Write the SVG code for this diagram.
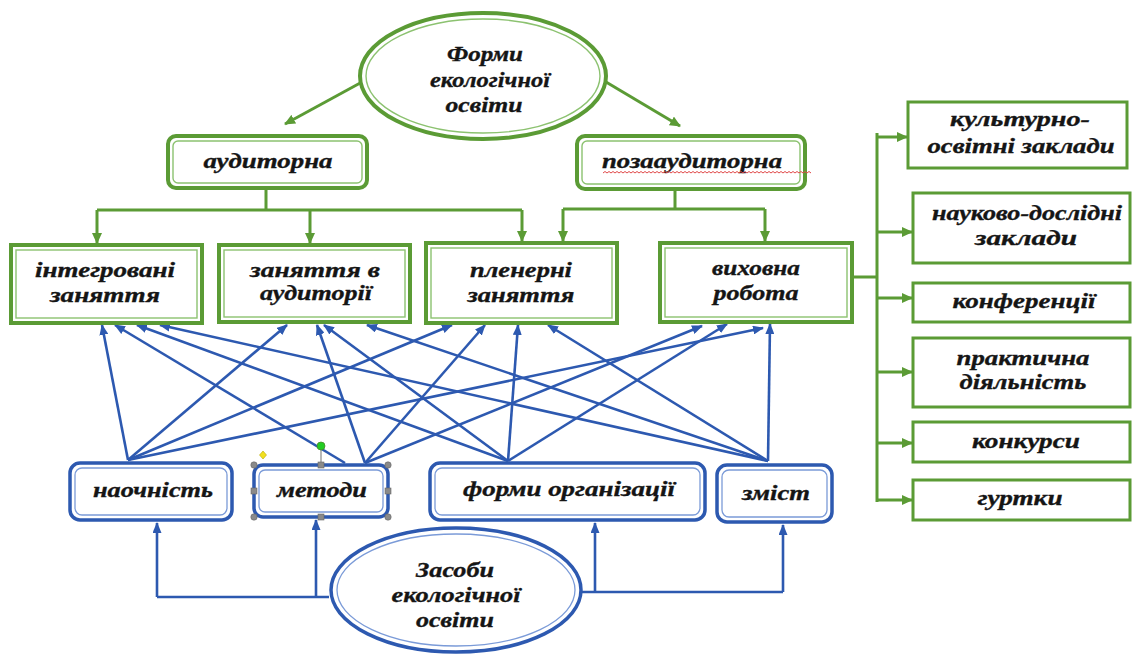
<svg xmlns="http://www.w3.org/2000/svg" width="1132" height="655" viewBox="0 0 1132 655">
<style>
.t{font-family:"Liberation Serif","DejaVu Serif",serif;font-weight:bold;font-style:italic;font-size:22px;fill:#151515;text-anchor:middle;stroke:#151515;stroke-width:0.35}
.go{fill:#fff;stroke:#5b9b35;stroke-width:4}
.gi{fill:none;stroke:#8cc270;stroke-width:1.4}
.gs{fill:#fff;stroke:#5b9b35;stroke-width:3}
.bo{fill:#fff;stroke:#2d59b0;stroke-width:3.5}
.bi{fill:none;stroke:#7b9bd8;stroke-width:1.3}
.gl{fill:none;stroke:#5b9b35;stroke-width:3}
.bl{fill:none;stroke:#2d59b0;stroke-width:2.6}
.ga{fill:none;stroke:#5b9b35;stroke-width:3;marker-end:url(#ag)}
.ba{fill:none;stroke:#2d59b0;stroke-width:2.6;marker-end:url(#ab)}
</style>
<defs>
<marker id="ag" markerWidth="11" markerHeight="10" refX="10" refY="5" orient="auto" markerUnits="userSpaceOnUse"><path d="M0,0 L11,5 L0,10 z" fill="#5b9b35"/></marker>
<marker id="ab" markerWidth="11" markerHeight="9" refX="10" refY="4.5" orient="auto" markerUnits="userSpaceOnUse"><path d="M0,0 L11,4.5 L0,9 z" fill="#2d59b0"/></marker>
</defs>
<rect width="1132" height="655" fill="#fff"/>
<g id="connectors">
<path class="ga" d="M362,82 L285,124"/>
<path class="ga" d="M606,82 L680,126"/>
<path class="gl" d="M266,188 V210 M97,210 H522 M675,190 V209 M563,209 H765 M852,277 H877 M877,133 V502"/>
<path class="ga" d="M97,210 V243"/>
<path class="ga" d="M310,210 V243"/>
<path class="ga" d="M522,210 V241"/>
<path class="ga" d="M563,209 V241"/>
<path class="ga" d="M765,209 V241"/>
<path class="ga" d="M877,137 H907"/>
<path class="ga" d="M877,232 H912"/>
<path class="ga" d="M877,298 H912"/>
<path class="ga" d="M877,372 H912"/>
<path class="ga" d="M877,443 H912"/>
<path class="ga" d="M877,500 H912"/>
<path class="bl" d="M157,597 H329 M582,592 H783"/>
<path class="ba" d="M157,597 V523"/>
<path class="ba" d="M316,597 V520"/>
<path class="ba" d="M595,592 V523"/>
<path class="ba" d="M783,592 V525"/>
<path class="ba" d="M128,460 L102,325"/>
<path class="ba" d="M128,460 L287,325"/>
<path class="ba" d="M128,460 L452,325"/>
<path class="ba" d="M128,460 L763,328"/>
<path class="ba" d="M345,463 L115,325"/>
<path class="ba" d="M365,463 L317,325"/>
<path class="ba" d="M365,463 L485,325"/>
<path class="ba" d="M365,463 L702,326"/>
<path class="ba" d="M508,461 L137,325"/>
<path class="ba" d="M508,461 L324,325"/>
<path class="ba" d="M508,461 L518,325"/>
<path class="ba" d="M508,461 L727,324"/>
<path class="ba" d="M768,461 L160,325"/>
<path class="ba" d="M768,461 L367,325"/>
<path class="ba" d="M768,461 L548,325"/>
<path class="ba" d="M768,461 L770,324"/>
</g>
<g id="forms">
<ellipse class="go" cx="483" cy="76" rx="123" ry="63"/>
<ellipse class="gi" cx="483" cy="76" rx="117" ry="57"/>
<text class="t" x="485" y="61" textLength="76" lengthAdjust="spacingAndGlyphs">Форми</text>
<text class="t" x="490" y="87" textLength="120" lengthAdjust="spacingAndGlyphs">екологічної</text>
<text class="t" x="484" y="112" textLength="77" lengthAdjust="spacingAndGlyphs">освіти</text>
</g>
<g id="auditorna">
<rect class="go" x="168" y="136" width="199" height="52" rx="8"/>
<rect class="gi" x="173" y="141" width="189" height="42" rx="5"/>
<text class="t" x="268" y="168" textLength="129" lengthAdjust="spacingAndGlyphs">аудиторна</text>
</g>
<g id="pozaauditorna">
<rect class="go" x="577" y="136" width="228" height="53" rx="8"/>
<rect class="gi" x="582" y="141" width="218" height="43" rx="5"/>
<text class="t" x="692" y="168" textLength="180" lengthAdjust="spacingAndGlyphs">позааудиторна</text>
<path d="M603,173 l2,-1.5l2,1.5l2,-1.5l2,1.5l2,-1.5l2,1.5l2,-1.5l2,1.5l2,-1.5l2,1.5l2,-1.5l2,1.5l2,-1.5l2,1.5l2,-1.5l2,1.5l2,-1.5l2,1.5l2,-1.5l2,1.5l2,-1.5l2,1.5l2,-1.5l2,1.5l2,-1.5l2,1.5l2,-1.5l2,1.5l2,-1.5l2,1.5l2,-1.5l2,1.5l2,-1.5l2,1.5l2,-1.5l2,1.5l2,-1.5l2,1.5l2,-1.5l2,1.5l2,-1.5l2,1.5l2,-1.5l2,1.5l2,-1.5l2,1.5l2,-1.5l2,1.5l2,-1.5l2,1.5l2,-1.5l2,1.5l2,-1.5l2,1.5l2,-1.5l2,1.5l2,-1.5l2,1.5l2,-1.5l2,1.5l2,-1.5l2,1.5l2,-1.5l2,1.5l2,-1.5l2,1.5l2,-1.5l2,1.5l2,-1.5l2,1.5l2,-1.5l2,1.5l2,-1.5l2,1.5l2,-1.5l2,1.5l2,-1.5l2,1.5l2,-1.5l2,1.5l2,-1.5l2,1.5l2,-1.5l2,1.5l2,-1.5l2,1.5l2,-1.5l2,1.5l2,-1.5l2,1.5l2,-1.5l2,1.5l2,-1.5l2,1.5l2,-1.5l2,1.5l2,-1.5l2,1.5l2,-1.5l2,1.5l2,-1.5l2,1.5l2,-1.5l2,1.5" fill="none" stroke="#e04848" stroke-width="1"/>
</g>
<g id="integrovani">
<rect class="go" x="11" y="245" width="191" height="78"/>
<rect class="gi" x="16" y="250" width="181" height="68"/>
<text class="t" x="105" y="277" textLength="140" lengthAdjust="spacingAndGlyphs">інтегровані</text>
<text class="t" x="105" y="302" textLength="110" lengthAdjust="spacingAndGlyphs">заняття</text>
</g>
<g id="zanyattya-auditorii">
<rect class="go" x="219" y="245" width="191" height="77"/>
<rect class="gi" x="224" y="250" width="181" height="67"/>
<text class="t" x="315" y="277" textLength="130" lengthAdjust="spacingAndGlyphs">заняття в</text>
<text class="t" x="316" y="300" textLength="112" lengthAdjust="spacingAndGlyphs">аудиторії</text>
</g>
<g id="plenerni">
<rect class="go" x="426" y="243" width="191" height="80"/>
<rect class="gi" x="431" y="248" width="181" height="70"/>
<text class="t" x="521" y="277" textLength="102" lengthAdjust="spacingAndGlyphs">пленерні</text>
<text class="t" x="521" y="302" textLength="107" lengthAdjust="spacingAndGlyphs">заняття</text>
</g>
<g id="vykhovna">
<rect class="go" x="660" y="243" width="192" height="79"/>
<rect class="gi" x="665" y="248" width="182" height="69"/>
<text class="t" x="756" y="275" textLength="88" lengthAdjust="spacingAndGlyphs">виховна</text>
<text class="t" x="756" y="300" textLength="85" lengthAdjust="spacingAndGlyphs">робота</text>
</g>
<g id="kulturno">
<rect class="gs" x="908" y="102" width="219" height="66"/>
<text class="t" x="1020" y="126" textLength="140" lengthAdjust="spacingAndGlyphs">культурно-</text>
<text class="t" x="1021" y="153" textLength="187" lengthAdjust="spacingAndGlyphs">освітні заклади</text>
</g>
<g id="naukovo">
<rect class="gs" x="913" y="193" width="217" height="70"/>
<text class="t" x="1027" y="220" textLength="190" lengthAdjust="spacingAndGlyphs">науково-дослідні</text>
<text class="t" x="1026" y="245" textLength="102" lengthAdjust="spacingAndGlyphs">заклади</text>
</g>
<g id="konferentsii">
<rect class="gs" x="913" y="283" width="217" height="39"/>
<text class="t" x="1024" y="308" textLength="143" lengthAdjust="spacingAndGlyphs">конференції</text>
</g>
<g id="praktychna">
<rect class="gs" x="913" y="338" width="217" height="69"/>
<text class="t" x="1023" y="365" textLength="133" lengthAdjust="spacingAndGlyphs">практична</text>
<text class="t" x="1023" y="389" textLength="127" lengthAdjust="spacingAndGlyphs">діяльність</text>
</g>
<g id="konkursy">
<rect class="gs" x="913" y="422" width="217" height="40"/>
<text class="t" x="1026" y="448" textLength="108" lengthAdjust="spacingAndGlyphs">конкурси</text>
</g>
<g id="hurtky">
<rect class="gs" x="913" y="480" width="217" height="40"/>
<text class="t" x="1020" y="505" textLength="85" lengthAdjust="spacingAndGlyphs">гуртки</text>
</g>
<g id="naochnist">
<rect class="bo" x="70" y="463" width="162" height="57" rx="10"/>
<rect class="bi" x="75" y="468" width="152" height="47" rx="7"/>
<text class="t" x="153" y="497" textLength="120" lengthAdjust="spacingAndGlyphs">наочність</text>
</g>
<g id="metody">
<rect class="bo" x="254" y="465" width="134" height="52" rx="9"/>
<rect class="bi" x="259" y="470" width="124" height="42" rx="6"/>
<text class="t" x="322" y="497" textLength="90" lengthAdjust="spacingAndGlyphs">методи</text>
<line x1="321" y1="447" x2="321" y2="465" stroke="#888" stroke-width="1.2"/>
<circle cx="321" cy="446" r="4" fill="#22cc22" stroke="#4a8a2a" stroke-width="0.8"/>
<path d="M263,451 L266.5,455 L263,459 L259.5,455 z" fill="#f2e020" stroke="#b8a800" stroke-width="0.6"/>
<g fill="#8a8a8a" stroke="#666" stroke-width="0.6">
<circle cx="254" cy="465" r="3.2"/><circle cx="388" cy="465" r="3.2"/><circle cx="254" cy="517" r="3.2"/><circle cx="388" cy="517" r="3.2"/>
<rect x="318" y="462" width="6" height="6"/><rect x="318" y="514" width="6" height="6"/><rect x="251" y="488" width="6" height="6"/><rect x="385" y="488" width="6" height="6"/>
</g>
</g>
<g id="formy-orhanizatsii">
<rect class="bo" x="430" y="463" width="275" height="57" rx="10"/>
<rect class="bi" x="435" y="468" width="265" height="47" rx="7"/>
<text class="t" x="569" y="496" textLength="212" lengthAdjust="spacingAndGlyphs">форми організації</text>
</g>
<g id="zmist">
<rect class="bo" x="717" y="465" width="115" height="57" rx="10"/>
<rect class="bi" x="722" y="470" width="105" height="47" rx="7"/>
<text class="t" x="776" y="500" textLength="68" lengthAdjust="spacingAndGlyphs">зміст</text>
</g>
<g id="zasoby">
<ellipse class="bo" cx="456" cy="590" rx="125" ry="62"/>
<ellipse class="bi" cx="456" cy="590" rx="119" ry="56"/>
<text class="t" x="455" y="577" textLength="78" lengthAdjust="spacingAndGlyphs">Засоби</text>
<text class="t" x="456" y="602" textLength="129" lengthAdjust="spacingAndGlyphs">екологічної</text>
<text class="t" x="455" y="627" textLength="78" lengthAdjust="spacingAndGlyphs">освіти</text>
</g>
</svg>
